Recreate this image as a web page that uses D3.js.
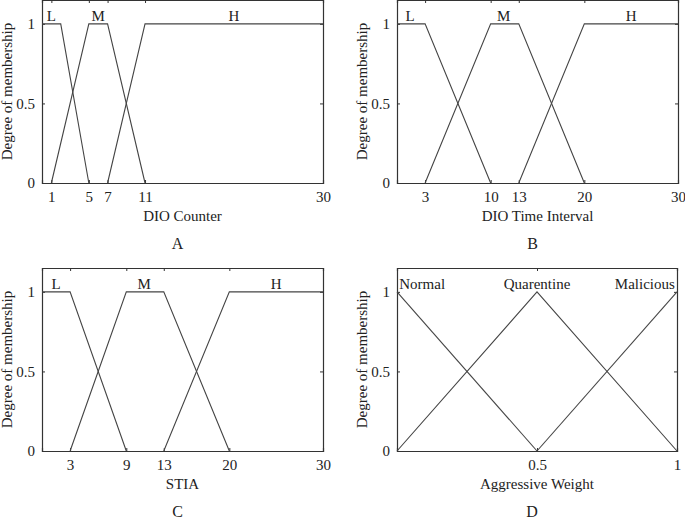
<!DOCTYPE html>
<html>
<head>
<meta charset="utf-8">
<script src="https://cdn.jsdelivr.net/npm/d3@7"></script>
<style>
  body { margin: 0; background: #fff; }
  svg text { font-family: "Liberation Serif", "DejaVu Serif", serif !important; fill: #222; }
</style>
</head>
<body>
<svg id="chart" width="685" height="523"></svg>
<script>
// membership function breakpoints, [x, degree]
const counterL = [[0, 1], [2, 1], [5, 0]];
const counterM = [[1, 0], [5, 1], [7, 1], [11, 0]];
const counterH = [[7, 0], [11, 1], [30, 1]];

const intervalL = [[0, 1], [3, 1], [10, 0]];
const intervalM = [[3, 0], [10, 1], [13, 1], [20, 0]];
const intervalH = [[13, 0], [20, 1], [30, 1]];

const stiaL = [[0, 1], [3, 1], [9, 0]];
const stiaM = [[3, 0], [9, 1], [13, 1], [20, 0]];
const stiaH = [[13, 0], [20, 1], [30, 1]];

const weightNormal = [[0, 1], [0.5, 0]];
const weightQuarentine = [[0, 0], [0.5, 1], [1, 0]];
const weightMalicious = [[0.5, 0], [1, 1]];

// term labels, [x, name]
const counterLabels = [[1, 'L'], [6, 'M'], [20.5, 'H']];
const intervalLabels = [[1.4, 'L'], [11.4, 'M'], [25, 'H']];
const stiaLabels = [[1.5, 'L'], [10.9, 'M'], [25, 'H']];
const weightLabels = [[0.09, 'Normal'], [0.5, 'Quarentine'], [0.885, 'Malicious']];

const counterTicks = [1, 5, 7, 11, 30];
const intervalTicks = [3, 10, 13, 20, 30];
const stiaTicks = [3, 9, 13, 20, 30];
const weightTicks = [0.5, 1];
const degreeTicks = [0, 0.5, 1];

const panels = [
  { x: 42, y: 0, w: 281, xmax: 30, series: [counterL, counterM, counterH], labels: counterLabels,
    ticks: counterTicks, title: 'DIO Counter', letter: 'A' },
  { x: 397, y: 0, w: 281, xmax: 30, series: [intervalL, intervalM, intervalH], labels: intervalLabels,
    ticks: intervalTicks, title: 'DIO Time Interval', letter: 'B' },
  { x: 42, y: 268, w: 281, xmax: 30, series: [stiaL, stiaM, stiaH], labels: stiaLabels,
    ticks: stiaTicks, title: 'STIA', letter: 'C' },
  { x: 397, y: 268, w: 280, xmax: 1, series: [weightNormal, weightQuarentine, weightMalicious], labels: weightLabels,
    ticks: weightTicks, title: 'Aggressive Weight', letter: 'D' }
];

const height = 183;
const serif = '"Liberation Serif", "DejaVu Serif", serif';
const svg = d3.select('#chart');

panels.forEach(p => {
  const g = svg.append('g').attr('transform', `translate(${p.x},${p.y})`);

  const xScale = d3.scaleLinear().domain([0, p.xmax]).range([0, p.w]);
  const yScale = d3.scaleLinear().domain([0, 1.15]).range([height, 0]);

  // inward ticks on all four sides, like a matlab box
  const fmt = d => d3.format('~g')(d);
  g.append('g').attr('transform', `translate(0,${height})`)
    .call(d3.axisBottom(xScale).tickValues(p.ticks).tickSize(-3).tickPadding(8).tickFormat(fmt));
  g.append('g')
    .call(d3.axisTop(xScale).tickValues(p.ticks).tickSize(-3).tickFormat(''));
  g.append('g')
    .call(d3.axisLeft(yScale).tickValues(degreeTicks).tickSize(-3).tickPadding(7).tickFormat(fmt));
  g.append('g').attr('transform', `translate(${p.w},0)`)
    .call(d3.axisRight(yScale).tickValues(degreeTicks).tickSize(-3).tickFormat(''));

  g.selectAll('g').attr('font-family', serif);
  g.selectAll('.domain').attr('stroke', '#333').attr('stroke-width', 1.2);
  g.selectAll('.tick line').attr('stroke', '#333');
  g.selectAll('.tick text').style('font-size', '15px').style('font-family', serif).attr('fill', '#222');

  const line = d3.line()
    .x(d => xScale(d[0]))
    .y(d => yScale(d[1]));

  g.selectAll('path.mf')
    .data(p.series)
    .enter().append('path')
    .attr('class', 'mf')
    .attr('d', line)
    .attr('fill', 'none')
    .attr('stroke', '#444')
    .attr('stroke-width', 1.1);

  g.selectAll('text.term')
    .data(p.labels)
    .enter().append('text')
    .attr('class', 'term')
    .attr('x', d => xScale(d[0]))
    .attr('y', yScale(1) - 3)
    .attr('text-anchor', 'middle')
    .style('font-family', serif)
    .style('font-size', '15px')
    .text(d => d[1]);

  g.append('text')
    .attr('x', p.w / 2)
    .attr('y', height + 38)
    .attr('text-anchor', 'middle')
    .style('font-family', serif)
    .style('font-size', '15px')
    .text(p.title);

  g.append('text')
    .attr('transform', `translate(-30,${height / 2}) rotate(-90)`)
    .attr('text-anchor', 'middle')
    .style('font-family', serif)
    .style('font-size', '15px')
    .text('Degree of membership');

  g.append('text')
    .attr('x', p.w / 2 - 5)
    .attr('y', height + 66)
    .attr('text-anchor', 'middle')
    .style('font-family', serif)
    .style('font-size', '16px')
    .text(p.letter);
});
</script>
</body>
</html>
